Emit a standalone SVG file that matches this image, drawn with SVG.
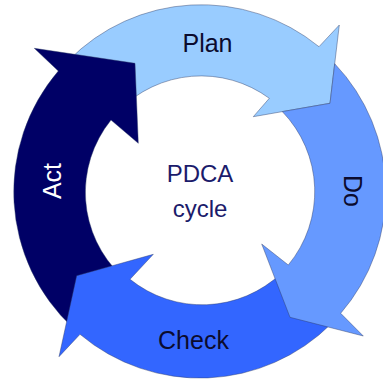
<svg xmlns="http://www.w3.org/2000/svg" width="383" height="380" viewBox="0 0 383 380">
<style>
.arrow{stroke:#2E3B66;stroke-width:0.8;stroke-opacity:0.55;stroke-linejoin:miter}
.lbl{font-family:"Liberation Sans",Arial,sans-serif;font-size:25px;text-anchor:middle;fill:#0B0B2E}
.center{font-family:"Liberation Sans",Arial,sans-serif;font-size:24px;text-anchor:middle;fill:#1B1B6B}
</style>
<rect width="383" height="380" fill="#FFFFFF"/>
<g id="plan">
<path class="arrow" fill="#99CCFF" d="M68.5 60.5 A186 186 0 0 1 319 46.7 L339.3 25 L330 103.3 L253.3 116.7 L269.3 98.3 A115 115 0 0 0 118.7 110.7 Z"/>
<text class="lbl" x="207.5" y="52">Plan</text>
</g>
<g id="act">
<path class="arrow" fill="#000066" d="M73.1 328 A186 186 0 0 1 58.3 71 L34.3 48.3 L135 63.3 L138.3 143.3 L111 120 A115 115 0 0 0 121.6 276.1 Z"/>
<text class="lbl" style="fill:#FFFFFF" transform="translate(61 181) rotate(-90)" x="0" y="0">Act</text>
</g>
<g id="check">
<path class="arrow" fill="#3366FF" d="M331.5 323.5 A186 186 0 0 1 80 334.3 L59 356.7 L76.7 275.7 L153.3 254.3 L130 279.3 A115 115 0 0 0 281.3 273.3 Z"/>
<text class="lbl" x="193.5" y="349">Check</text>
</g>
<g id="do">
<path class="arrow" fill="#6699FF" d="M334.7 63.7 A186 186 0 0 1 340.7 313.3 L363.3 336 L290 317.3 L261.7 244 L288.3 265 A115 115 0 0 0 282.3 111.6 L330 103.3 Z"/>
<text class="lbl" transform="translate(344 191) rotate(90)" x="0" y="0">Do</text>
</g>
<g id="center-label">
<text class="center" x="200" y="182">PDCA</text>
<text class="center" x="200" y="217">cycle</text>
</g>
</svg>
